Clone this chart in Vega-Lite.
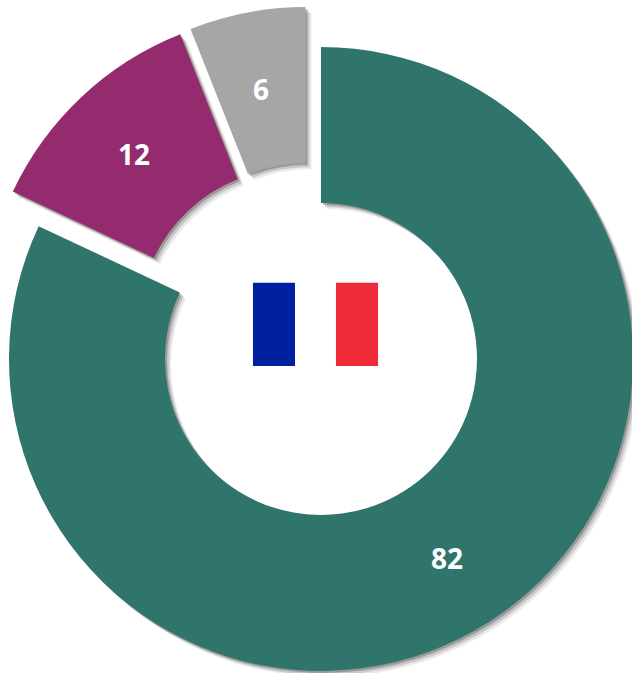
{
"$schema":"https://vega.github.io/schema/vega-lite/v6.json",
"width":632,"height":673,"padding":0,"autosize":{"type":"none"},
"background":"white","view":{"stroke":null},
"datasets":{
"slices":[
{"name":"Groupe A","value":82,"start":0,"end":82,"outer":100,"inner":50,"dx":0,"dy":0,"lx":40.4,"ly":-64.6,"color":"#2F756C"},
{"name":"Groupe B","value":12,"start":82,"end":94,"outer":100,"inner":50,"dx":-8.3,"dy":11.1,"lx":-59.9,"ly":64.8,"color":"#952B6F"},
{"name":"Groupe C","value":6,"start":94,"end":100,"outer":100,"inner":50,"dx":-5.0,"dy":12.8,"lx":-19.2,"ly":85.6,"color":"#A6A6A6"}
],
"flag":[
{"band":"bleu","from":-21.8,"to":-8.33,"top":24.4,"low":-2.24,"color":"#00209F"},
{"band":"blanc","from":-8.33,"to":4.8,"top":24.4,"low":-2.24,"color":"#FFFFFF"},
{"band":"rouge","from":4.8,"to":18.3,"top":24.4,"low":-2.24,"color":"#EF2B3A"}
]},
"layer":[
{"data":{"name":"slices"},"mark":{"type":"arc","xOffset":6,"yOffset":6,"opacity":0.1},
"encoding":{
"x":{"field":"dx","type":"quantitative","axis":null,"scale":{"domain":[-102.88,99.68],"nice":false,"zero":false}},
"y":{"field":"dy","type":"quantitative","axis":null,"scale":{"domain":[-100.64,115.06],"nice":false,"zero":false}},
"theta":{"field":"start","type":"quantitative","scale":{"domain":[0,100],"range":[0,6.28319]}},"theta2":{"field":"end"},
"radius":{"field":"outer","type":"quantitative","scale":{"domain":[0,100],"range":[0,312]}},"radius2":{"field":"inner"},
"color":{"value":"#333333"}}},
{"data":{"name":"slices"},"mark":{"type":"arc","xOffset":4,"yOffset":4,"opacity":0.18},
"encoding":{
"x":{"field":"dx","type":"quantitative"},"y":{"field":"dy","type":"quantitative"},
"theta":{"field":"start","type":"quantitative"},"theta2":{"field":"end"},
"radius":{"field":"outer","type":"quantitative"},"radius2":{"field":"inner"},
"color":{"value":"#333333"}}},
{"data":{"name":"slices"},"mark":{"type":"arc","xOffset":2,"yOffset":2,"opacity":0.3},
"encoding":{
"x":{"field":"dx","type":"quantitative"},"y":{"field":"dy","type":"quantitative"},
"theta":{"field":"start","type":"quantitative"},"theta2":{"field":"end"},
"radius":{"field":"outer","type":"quantitative"},"radius2":{"field":"inner"},
"color":{"value":"#333333"}}},
{"data":{"name":"slices"},"mark":{"type":"arc"},
"encoding":{
"x":{"field":"dx","type":"quantitative"},"y":{"field":"dy","type":"quantitative"},
"theta":{"field":"start","type":"quantitative"},"theta2":{"field":"end"},
"radius":{"field":"outer","type":"quantitative"},"radius2":{"field":"inner"},
"color":{"field":"color","type":"nominal","scale":null,"legend":null}}},
{"data":{"name":"slices"},"mark":{"type":"text","font":"Open Sans","fontWeight":"bold","fontSize":28,"color":"white"},
"encoding":{"x":{"field":"lx","type":"quantitative"},"y":{"field":"ly","type":"quantitative"},"text":{"field":"value","type":"quantitative"}}},
{"data":{"name":"flag"},"mark":{"type":"rect"},
"encoding":{"x":{"field":"from","type":"quantitative"},"x2":{"field":"to"},"y":{"field":"top","type":"quantitative"},"y2":{"field":"low"},
"color":{"field":"color","type":"nominal","scale":null,"legend":null}}}
]
}
